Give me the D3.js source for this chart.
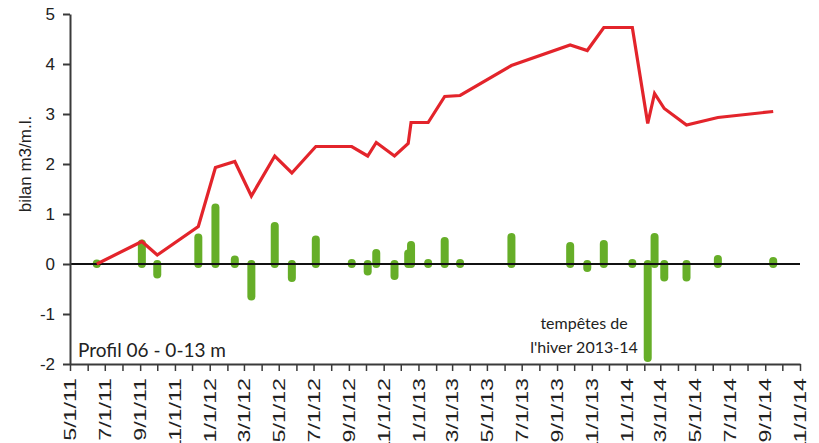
<!DOCTYPE html>
<html>
<head>
<meta charset="utf-8">
<script src="https://cdn.jsdelivr.net/npm/d3@7"></script>
<style>
  html, body { margin: 0; padding: 0; background: #fff; }
  svg { display: block; }
</style>
</head>
<body>
<svg id="chart" width="819" height="443"></svg>
<script>
// ---- data ----
const dates = [
  "2011-06-17","2011-09-04","2011-10-01","2011-12-12","2012-01-11","2012-02-14",
  "2012-03-14","2012-04-24","2012-05-24","2012-07-05","2012-09-06","2012-10-04",
  "2012-10-19","2012-11-20","2012-12-14","2012-12-19","2013-01-18","2013-02-16",
  "2013-03-15","2013-06-13","2013-09-24","2013-10-24","2013-11-22","2014-01-11",
  "2014-02-07","2014-02-19","2014-03-08","2014-04-16","2014-06-10","2014-09-15"
];
const cumulative = [
  0, 0.45, 0.18, 0.75, 1.93, 2.05,
  1.36, 2.16, 1.82, 2.35, 2.35, 2.16,
  2.43, 2.16, 2.41, 2.83, 2.83, 3.35,
  3.37, 3.97, 4.38, 4.27, 4.73, 4.73,
  2.81, 3.41, 3.11, 2.78, 2.93, 3.05
];
const change = [
  0.01, 0.41, -0.21, 0.53, 1.13, 0.09,
  -0.65, 0.76, -0.28, 0.49, 0.02, -0.15,
  0.22, -0.24, 0.21, 0.38, 0.02, 0.46,
  0.02, 0.54, 0.36, -0.08, 0.40, 0.02,
  -1.88, 0.54, -0.27, -0.27, 0.10, 0.06
];
const yTicks = [-2, -1, 0, 1, 2, 3, 4, 5];
const xStart = "2011-05-01", xEnd = "2014-11-01";
const yLabel = "bilan m3/m.l.";
const profileLabel = "Profil 06 - 0-13 m";
const noteLines = ["tempêtes de", "l'hiver 2013-14"];

// ---- chart ----
const svg = d3.select("#chart");
const parse = d3.timeParse("%Y-%m-%d");
const pts = dates.map((d, i) => ({ date: parse(d), cum: cumulative[i], chg: change[i] }));

const x = d3.scaleTime().domain([parse(xStart), parse(xEnd)]).range([70, 800]);
const y = d3.scaleLinear().domain([-2, 5]).range([364, 14]);

const green = "#66ae28", red = "#e3242b", axisCol = "#3a3a3a";

// bars
svg.append("g").selectAll("line").data(pts).join("line")
  .attr("x1", d => x(d.date)).attr("x2", d => x(d.date))
  .attr("y1", y(0)).attr("y2", d => y(d.chg))
  .attr("stroke", green).attr("stroke-width", 8).attr("stroke-linecap", "round");

// zero line
svg.append("line")
  .attr("x1", x.range()[0]).attr("x2", x.range()[1])
  .attr("y1", y(0)).attr("y2", y(0))
  .attr("stroke", "#111").attr("stroke-width", 2);

// cumulative line
svg.append("path").datum(pts)
  .attr("fill", "none").attr("stroke", red).attr("stroke-width", 3.2)
  .attr("stroke-linejoin", "miter").attr("stroke-linecap", "butt")
  .attr("d", d3.line().x(d => x(d.date)).y(d => y(d.cum)));

// y axis
const yAxis = svg.append("g").attr("transform", `translate(${x.range()[0]},0)`)
  .call(d3.axisLeft(y).tickValues(yTicks).tickSize(7).tickSizeOuter(0).tickPadding(8)
    .tickFormat(d => String(d)));
yAxis.select(".domain").attr("stroke", axisCol).attr("stroke-width", 2);
yAxis.selectAll(".tick line").attr("stroke", axisCol).attr("stroke-width", 2);
yAxis.selectAll("text").attr("font-family", "'Liberation Sans', Arial, sans-serif")
  .attr("font-size", 17).attr("fill", "#222");

// x axis
const xAxis = svg.append("g").attr("transform", `translate(0,${y(-2)})`)
  .call(d3.axisBottom(x).ticks(d3.timeMonth.every(1)).tickSize(7).tickSizeOuter(0)
    .tickFormat(d => (d.getMonth() % 2 === 0)
      ? `${d.getMonth() + 1}/1/${String(d.getFullYear()).slice(2)}` : ""));
xAxis.select(".domain").attr("stroke", axisCol).attr("stroke-width", 2);
xAxis.selectAll(".tick line").attr("stroke", axisCol).attr("stroke-width", 1.5);
xAxis.selectAll("text")
  .attr("font-family", "'Liberation Sans', Arial, sans-serif")
  .attr("font-size", 16).attr("fill", "#222")
  .attr("y", null).attr("dy", "0.35em")
  .attr("text-anchor", "end")
  .attr("transform", "translate(0,14) rotate(-90) scale(1.45,1)");

// y label
svg.append("text")
  .attr("transform", "translate(31,164) rotate(-90)")
  .attr("text-anchor", "middle")
  .attr("font-family", "'Liberation Sans', Arial, sans-serif")
  .attr("font-size", 17).attr("fill", "#222")
  .text(yLabel);

// profile label
svg.append("text")
  .attr("x", 78).attr("y", 357)
  .attr("font-family", "Lato, sans-serif").attr("font-size", 19).attr("fill", "#222")
  .text(profileLabel);

// annotation
svg.append("text")
  .attr("font-family", "Lato, sans-serif").attr("font-size", 16).attr("fill", "#222")
  .attr("text-anchor", "middle")
  .selectAll("tspan").data(noteLines).join("tspan")
  .attr("x", 584).attr("y", (d, i) => 329 + i * 24)
  .text(d => d);
</script>
</body>
</html>
